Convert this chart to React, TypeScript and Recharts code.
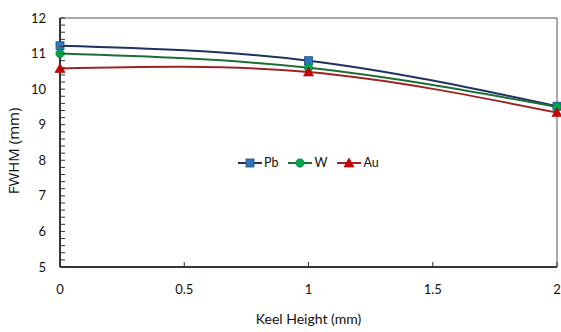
import React from "react";
import {
  LineChart,
  Line,
  XAxis,
  YAxis,
  ReferenceArea,
  Label,
} from "recharts";

// values
const keelHeights = [0, 1, 2];
const pbValues = [11.22, 10.8, 9.52];
const wValues = [11.0, 10.6, 9.5];
const auValues = [10.58, 10.48, 9.34];

const xTicks = [0, 0.5, 1, 1.5, 2];
const yMajorTicks = [5, 6, 7, 8, 9, 10, 11, 12];
const yMinorSteps = [0, 0.2, 0.4, 0.6, 0.8];

const yTicks = yMajorTicks.flatMap((v, i) =>
  i === yMajorTicks.length - 1 ? [v] : yMinorSteps.map((s) => Math.round((v + s) * 10) / 10)
);

const data = keelHeights.map((h, i) => ({
  h,
  Pb: pbValues[i],
  W: wValues[i],
  Au: auValues[i],
}));

const FONT = "Lato, 'Open Sans', sans-serif";

const SERIES = [
  { key: "Pb", line: "#1f3160", fill: "#2e75b6", shape: "square" },
  { key: "W", line: "#1d6e36", fill: "#00a650", shape: "circle" },
  { key: "Au", line: "#9e2424", fill: "#d00000", shape: "triangle" },
];

function Marker({ cx, cy, shape, fill }: any) {
  if (cx == null || cy == null) return null;
  if (shape === "square") {
    return <rect x={cx - 4} y={cy - 4} width={8} height={8} fill={fill} stroke="#1f4e8c" strokeWidth={0.8} />;
  }
  if (shape === "circle") {
    return <circle cx={cx} cy={cy} r={4.2} fill={fill} stroke="#0b7a3a" strokeWidth={0.6} />;
  }
  return (
    <polygon
      points={`${cx},${cy - 5} ${cx + 5},${cy + 4} ${cx - 5},${cy + 4}`}
      fill={fill}
      stroke="#a00000"
      strokeWidth={0.6}
    />
  );
}

function YTick({ x, y, payload }: any) {
  const v = payload.value;
  const major = Math.abs(v - Math.round(v)) < 1e-6;
  return (
    <g>
      <line x1={x} x2={x + 5} y1={y} y2={y} stroke="#333" strokeWidth={1} />
      {major && (
        <text x={x - 14} y={y + 4.5} textAnchor="end" fontSize={13} fontFamily={FONT} fill="#111">
          {v}
        </text>
      )}
    </g>
  );
}

function XTick({ x, y, payload }: any) {
  return (
    <g>
      <line x1={x} x2={x} y1={y} y2={y - 5} stroke="#333" strokeWidth={1} />
      <text x={x} y={y + 27} textAnchor="middle" fontSize={13} fontFamily={FONT} fill="#111">
        {payload.value}
      </text>
    </g>
  );
}

function ChartLegend() {
  return (
    <div
      style={{
        position: "absolute",
        left: 238,
        top: 155,
        display: "flex",
        fontFamily: FONT,
        fontSize: 12.5,
        color: "#111",
        alignItems: "center",
      }}
    >
      {SERIES.map((s) => (
        <div key={s.key} style={{ display: "flex", alignItems: "center", gap: 2, marginRight: 10 }}>
          <svg width={24} height={12}>
            <line x1={0} x2={24} y1={6} y2={6} stroke={s.line} strokeWidth={2} />
            <Marker cx={12} cy={6} shape={s.shape} fill={s.fill} />
          </svg>
          <span>{s.key}</span>
        </div>
      ))}
    </div>
  );
}

export default function App() {
  return (
    <div style={{ position: "absolute", left: 0, top: 0, width: 561, height: 332, background: "#fff" }}>
      <LineChart width={561} height={332} data={data} margin={{ top: 18, right: 4, bottom: 0, left: 0 }}>
        <ReferenceArea x1={0} x2={2} y1={5} y2={12} fill="none" stroke="#555" strokeWidth={1} ifOverflow="visible" />
        <XAxis
          dataKey="h"
          type="number"
          domain={[0, 2]}
          ticks={xTicks}
          height={65}
          tickSize={0}
          tickMargin={0}
          tick={<XTick />}
          axisLine={{ stroke: "#111", strokeWidth: 1.5 }}
          tickLine={false}
        >
          <Label value="Keel Height (mm)" position="insideBottom" offset={8} fontSize={14} fontFamily={FONT} fill="#111" />
        </XAxis>
        <YAxis
          type="number"
          domain={[5, 12]}
          ticks={yTicks}
          interval={0}
          width={60}
          tickSize={0}
          tickMargin={0}
          tick={<YTick />}
          axisLine={{ stroke: "#111", strokeWidth: 1.5 }}
          tickLine={false}
        >
          <Label
            content={() => (
              <text
                x={15}
                y={151}
                transform="rotate(-90 15 151)"
                textAnchor="middle"
                dominantBaseline="middle"
                fontSize={15}
                fontFamily="'Open Sans', sans-serif"
                fill="#111"
              >
                FWHM (mm)
              </text>
            )}
          />
        </YAxis>
        {SERIES.map((s) => (
          <Line
            key={s.key}
            type="natural"
            dataKey={s.key}
            stroke={s.line}
            strokeWidth={2}
            isAnimationActive={false}
            dot={(p: any) => <Marker key={`${s.key}-${p.index}`} cx={p.cx} cy={p.cy} shape={s.shape} fill={s.fill} />}
            activeDot={false}
          />
        ))}
      </LineChart>
      <ChartLegend />
    </div>
  );
}
